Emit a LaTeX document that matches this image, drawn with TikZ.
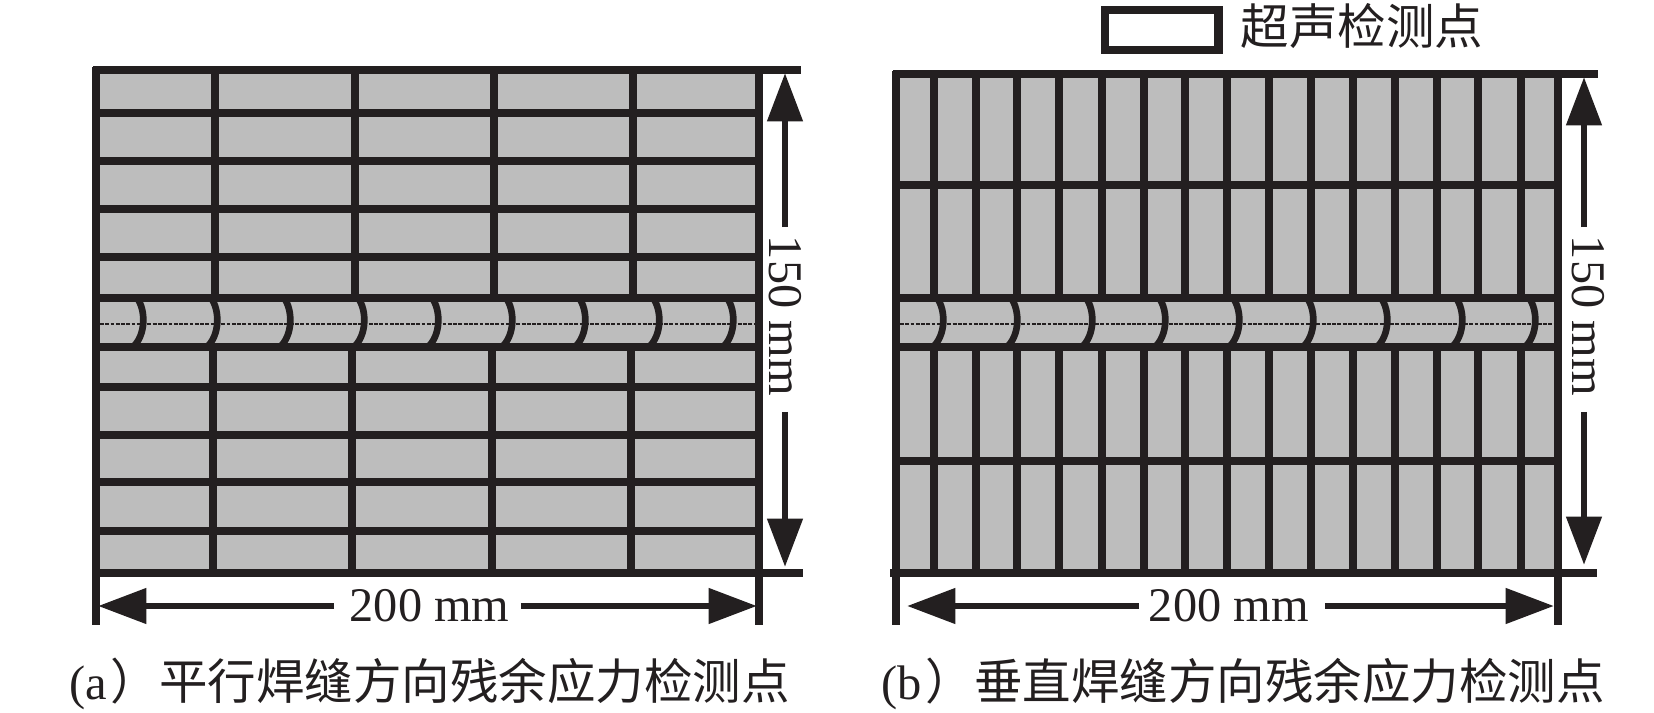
\documentclass[tikz,border=0pt]{standalone}
\usepackage{fontspec}
\setmainfont{Liberation Serif}
\newfontfamily\cjk{Noto Sans CJK SC}
\usetikzlibrary{arrows.meta,positioning}
\definecolor{inkline}{HTML}{231F20}
\definecolor{spotgray}{HTML}{BDBDBD}
\tikzset{
  frameline/.style={draw=inkline,line width=4.8pt},
  gridline/.style={draw=inkline,line width=4.2pt},
  weldarc/.style={draw=inkline,line width=3.8pt},
  weldaxis/.style={draw=inkline,line width=1.4pt,dash pattern=on 2.2pt off 0.8pt},
  dimline/.style={draw=inkline,line width=3.9pt,-{Triangle[length=27.5pt,width=19.5pt]},shorten >=0pt},
  dimtext/.style={font=\fontsize{27.5}{30}\selectfont,inner sep=0pt,text=inkline},
  capttext/.style={font=\fontsize{27.6}{30}\selectfont,inner sep=0pt,anchor=west,text=inkline},
}
\begin{document}
\begin{tikzpicture}[x=0.02cm,y=-0.02cm,line cap=butt]
    \useasboundingbox (0,0) rectangle (1654,713);
    % panel a
    \fill[spotgray] (96,70) rectangle (759,573);
    \foreach \y in {113,161,209,257,387,435,482,531}
        \draw[gridline] (96,\y) -- (759,\y);
    \foreach \x in {215,355,494,633} {
        \draw[gridline] (\x,70) -- (\x,298);
    }
    \foreach \x in {213,352,492,631} {
        \draw[gridline] (\x,347) -- (\x,573);
    }
    \draw[weldaxis] (100,324) -- (755,324);
    \foreach \x in {143,217,290,364,438,512,585,659,733}
        \draw[weldarc] (\x-6,298) .. controls (\x+3,310) and (\x+3,335) .. (\x-10,347);
    \draw[frameline] (96,298) -- (759,298);
    \draw[frameline] (96,347) -- (759,347);
    \draw[frameline] (93,70) -- (801,70);
    \draw[frameline] (96,573) -- (803,573);
    \draw[frameline] (96,67) -- (96,625);
    \draw[frameline] (759,70) -- (759,625);
    % panel b
    \fill[spotgray] (896,74) rectangle (1558,573);
    \foreach \y in {185,461}
        \draw[gridline] (896,\y) -- (1558,\y);
    \foreach \x in {934,976,1017,1059,1102,1144,1185,1227,1269,1311,1353,1395,1437,1478,1521} {
        \draw[gridline] (\x,74) -- (\x,298);
        \draw[gridline] (\x,347) -- (\x,573);
    }
    \draw[weldaxis] (900,324) -- (1554,324);
    \foreach \x in {943,1017,1092,1165,1239,1313,1387,1462,1535}
        \draw[weldarc] (\x-6,298) .. controls (\x+3,310) and (\x+3,335) .. (\x-10,347);
    \draw[frameline] (896,298) -- (1558,298);
    \draw[frameline] (896,347) -- (1558,347);
    \draw[frameline] (893,74) -- (1598,74);
    \draw[frameline] (890,573) -- (1597,573);
    \draw[frameline] (896,71) -- (896,625);
    \draw[frameline] (1558,74) -- (1558,625);
    % dimensions
    \coordinate (atop) at (785,73);
    \coordinate (abot) at (785,567);
    \coordinate (aleft) at (98,606);
    \coordinate (aright) at (757,606);
    \node[dimtext,rotate=-90,minimum width=185*0.5669pt] (aheight) at (785,319.5) {150 mm\hspace*{4.2pt}};
    \node[dimtext,minimum width=187*0.5669pt] (awidth) at (427.5,606) {\hspace*{2.4pt}200 mm};
    \draw[dimline] (aheight) -- (atop);
    \draw[dimline] (aheight) -- (abot);
    \draw[dimline] (awidth) -- (aleft);
    \draw[dimline] (awidth) -- (aright);
    \coordinate (btop) at (1584,77);
    \coordinate (bbot) at (1584,565);
    \coordinate (bleft) at (907,606);
    \coordinate (bright) at (1554,606);
    \node[dimtext,rotate=-90,minimum width=185*0.5669pt] (bheight) at (1588,319.5) {150 mm\hspace*{4.2pt}};
    \node[dimtext,minimum width=186*0.5669pt] (bwidth) at (1232,606) {200 mm\hspace*{3.6pt}};
    \draw[dimline] (bheight.west -| btop) -- (btop);
    \draw[dimline] (bheight.east -| bbot) -- (bbot);
    \draw[dimline] (bwidth) -- (bleft);
    \draw[dimline] (bwidth) -- (bright);
    % legend
    \node[frameline,fill=white,inner sep=0pt,minimum width=114*0.5669pt,minimum height=40*0.5669pt] (legendbox) at (1161.5,30) {};
    \node[capttext,right=18*0.5669pt of legendbox.east,yshift=2.4pt] (legendtext) {\cjk 超声检测点};
    % captions
    \node[capttext] (capta) at (69,684) {(a\hspace*{2.2pt}\cjk）平行焊缝方向残余应力检测点};
    \node[capttext] (captb) at (881,684) {(b\hspace*{2.2pt}\cjk）垂直焊缝方向残余应力检测点};
\end{tikzpicture}
\end{document}
